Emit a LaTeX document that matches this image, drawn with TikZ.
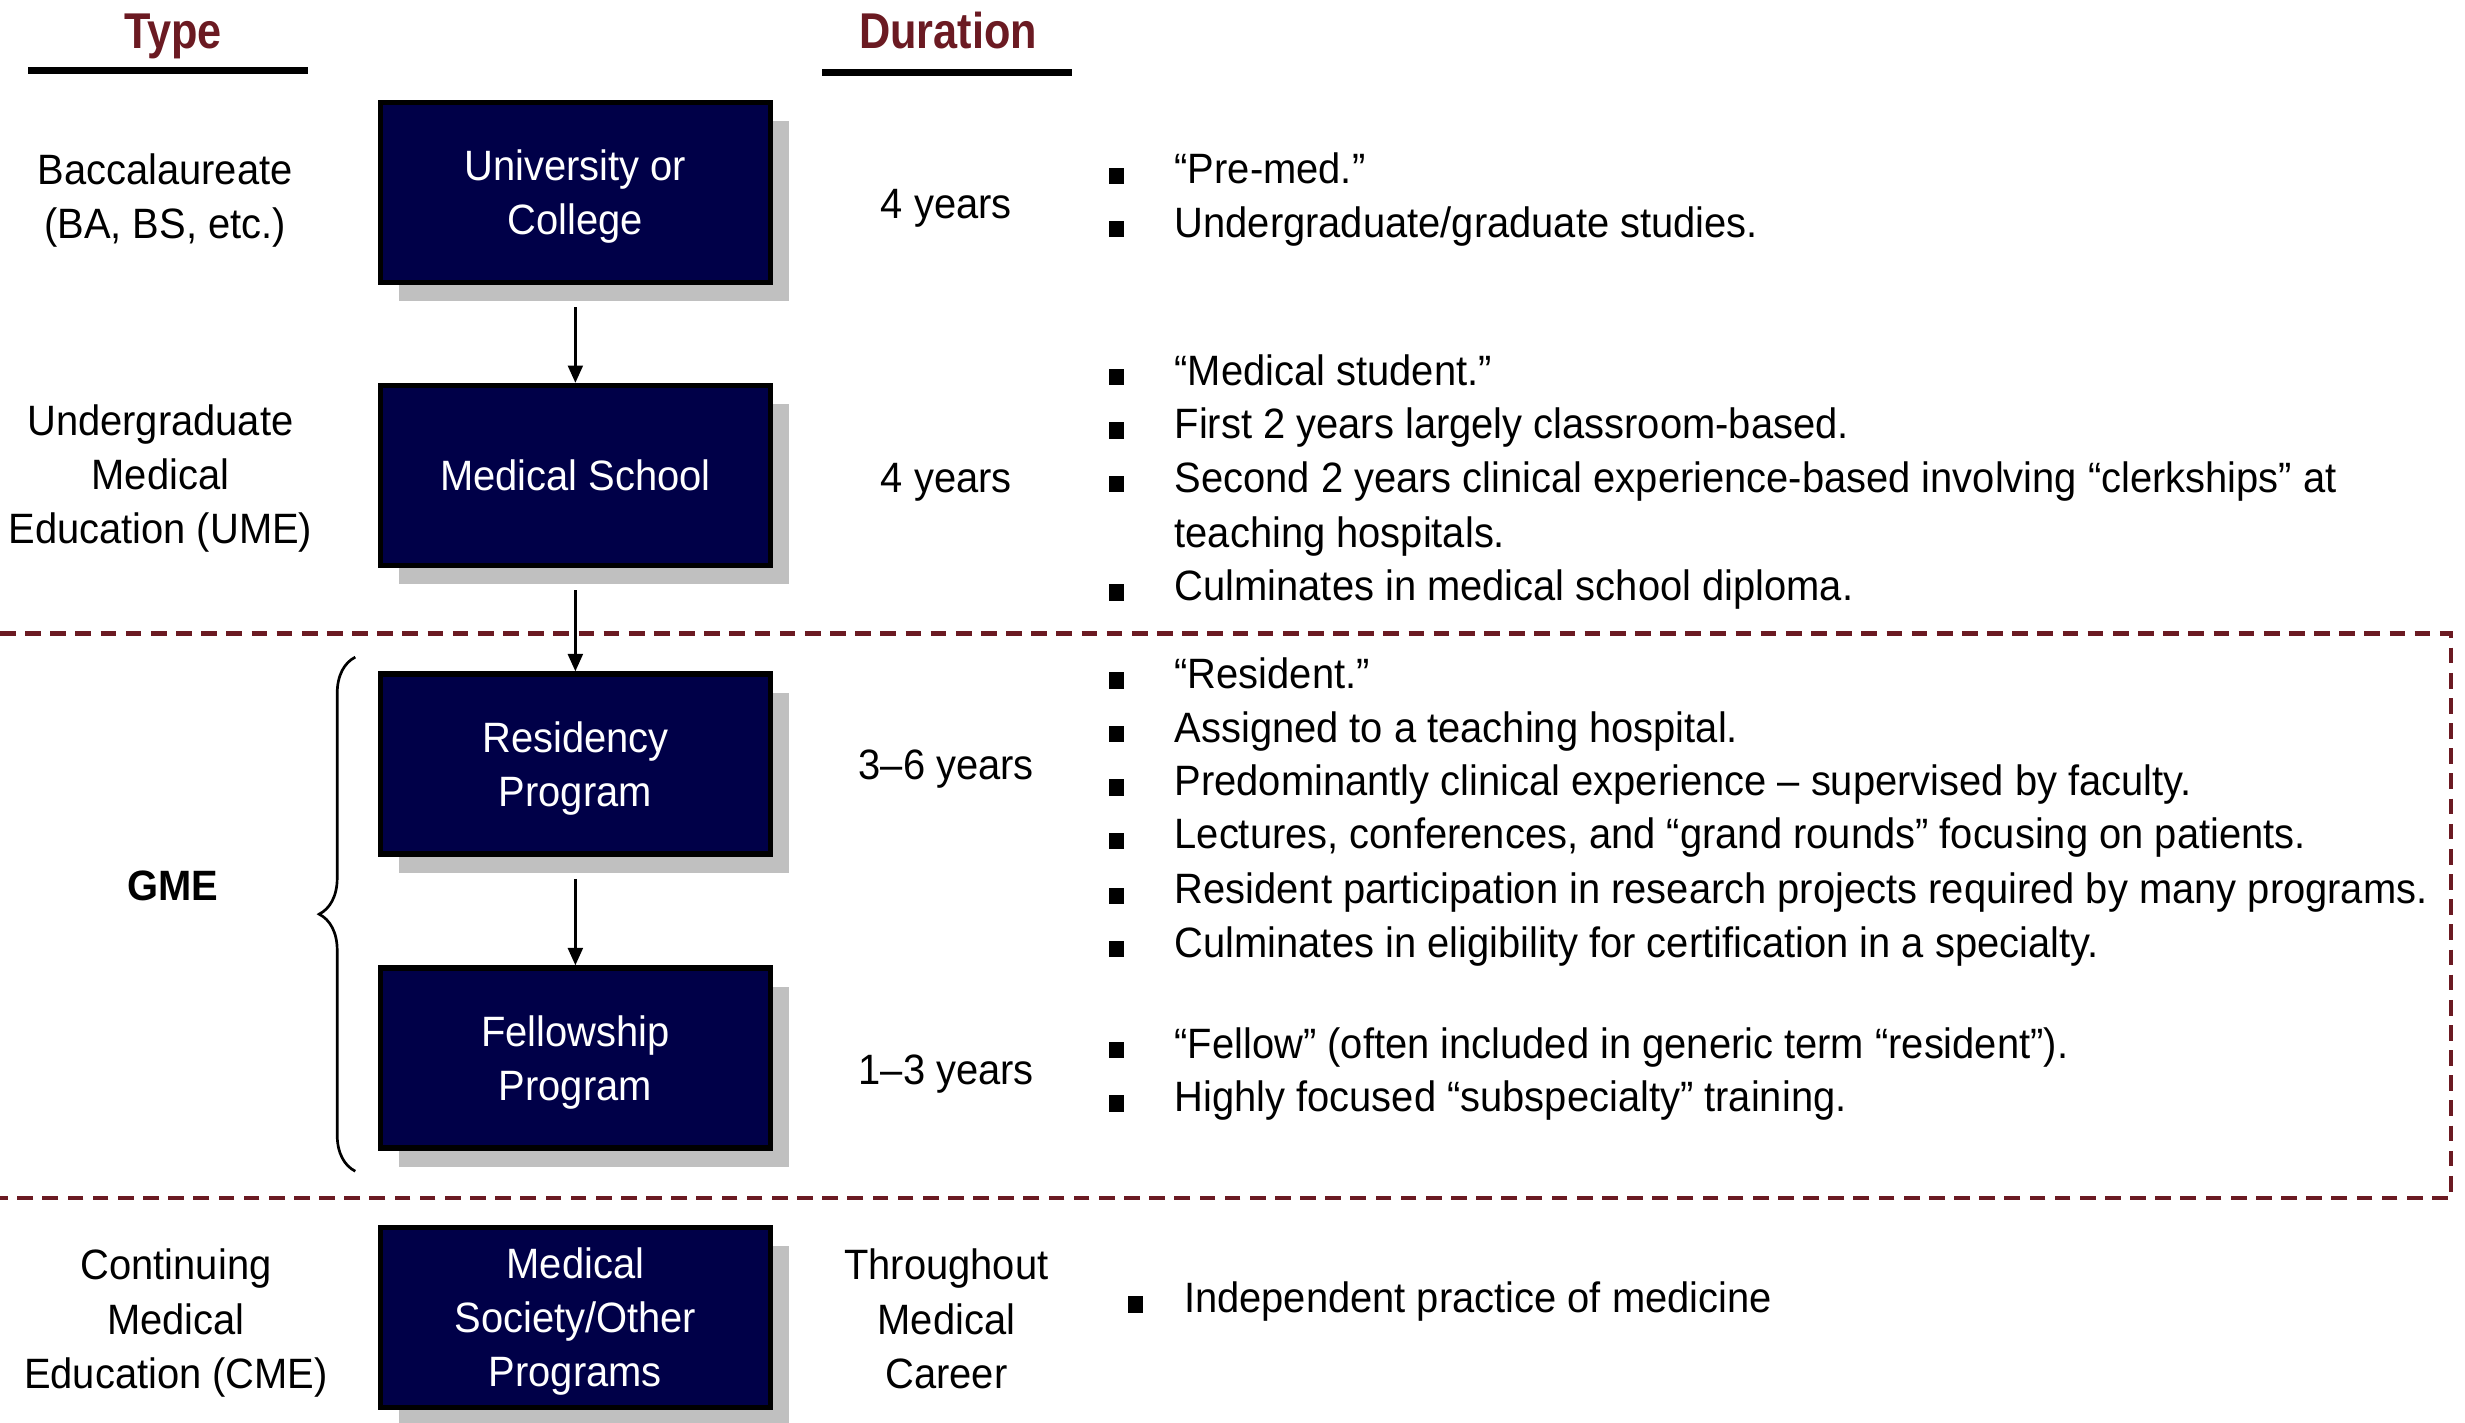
\documentclass[tikz,border=0pt]{standalone}
\usepackage{fontspec}
\setmainfont[FakeStretch=0.94]{Liberation Sans}
\newfontfamily\hdrfont[FakeStretch=0.86]{Liberation Sans}
\usetikzlibrary{arrows.meta,decorations.pathreplacing,shadows}
\definecolor{hdr}{HTML}{6B1A22}
\definecolor{boxnavy}{HTML}{000048}
\definecolor{shade}{HTML}{C0C0C0}
\newcommand{\bodyfont}{\fontsize{27}{34.4}\selectfont}
\newcommand{\tl}{\rule{0pt}{25pt}}
\newcommand{\bitem}[4]{\node[bul] (#1b) at (#2-37,#3+4.8) {}; \node[itm] (#1) at (#2,#3+10) {#4};}
\begin{document}
\begin{tikzpicture}[x=1pt,y=-1pt,
  prog/.style={draw=black,line width=3.5pt,fill=boxnavy,text=white,minimum width=248pt,minimum height=114.5pt,align=center,font=\bodyfont,inner sep=0pt,drop shadow={shadow xshift=12pt,shadow yshift=-12pt,fill=shade,opacity=1}},
  hdrtxt/.style={font=\fontsize{32}{36}\selectfont\hdrfont\bfseries,text=hdr,anchor=base,inner sep=0pt},
  uline/.style={line width=4.4pt},
  lbl/.style={font=\bodyfont,align=center,anchor=base,inner sep=0pt},
  itm/.style={font=\bodyfont,anchor=base west,inner sep=0pt},
  bul/.style={fill=black,minimum width=9.5pt,minimum height=10.5pt,inner sep=0pt},
  arr/.style={line width=1.5pt,-{Triangle[width=9.5pt,length=11pt]}},
  gmeline/.style={draw=hdr,line width=3pt,dash pattern=on 10pt off 6pt},
  gmebrace/.style={line width=1.7pt,decorate,decoration={brace,amplitude=23pt}}
]
\useasboundingbox (0,0) rectangle (1568,905);
% headers
\node[hdrtxt] (hType) at (110,31) {Type};
\node[hdrtxt] (hDur) at (603,31) {Duration};
\draw[uline] (18,45) -- (196,45);
\draw[uline] (523,46) -- (682,46);
% dashed GME frame
\draw[gmeline] (0,403) -- (1559,403) -- (1559,762) -- (0,762);
% boxes
\node[prog] (uni) at (366,122.5) {\tl University or\\College};
\node[prog] (med) at (366,302.5) {Medical School};
\node[prog] (res) at (366,486) {\tl Residency\\Program};
\node[prog] (fel) at (366,673) {\tl Fellowship\\Program};
\node[prog] (soc) at (366,838) {\tl Medical\\Society/Other\\Programs};
% arrows
\draw[arr] ([yshift=-14pt]uni.south) -- (med.north);
\draw[arr] ([yshift=-14pt]med.south) -- (res.north);
\draw[arr] ([yshift=-14pt]res.south) -- (fel.north);
% brace
\draw[gmebrace] (226,745) -- (226,418);
% type column
\node[lbl] (tBac) at (105,152) {Baccalaureate\\(BA, BS, etc.)};
\node[lbl] (tUME) at (102,346) {Undergraduate\\Medical\\Education (UME)};
\node[lbl,font=\bodyfont\bfseries] (tGME) at (110,573) {GME};
\node[lbl] (tCME) at (112,883) {Continuing\\Medical\\Education (CME)};
% duration column
\node[lbl] (d1) at (602,139) {4 years};
\node[lbl] (d2) at (602,313) {4 years};
\node[lbl] (d3) at (602,496) {3–6 years};
\node[lbl] (d4) at (602,690) {1–3 years};
\node[lbl] (d5) at (602,883) {Throughout\\Medical\\Career};
% bullets
\bitem{a1}{747}{107}{“Pre-med.”}
\bitem{a2}{747}{141}{Undergraduate/graduate studies.}
\bitem{b1}{747}{235}{“Medical student.”}
\bitem{b2}{747}{269}{First 2 years largely classroom-based.}
\bitem{b3}{747}{303}{Second 2 years clinical experience-based involving “clerkships” at}
\node[itm] (b3c) at (747,348) {teaching hospitals.};
\bitem{b4}{747}{372}{Culminates in medical school diploma.}
\bitem{c1}{747}{428}{“Resident.”}
\bitem{c2}{747}{462}{Assigned to a teaching hospital.}
\bitem{c3}{747}{496}{Predominantly clinical experience – supervised by faculty.}
\bitem{c4}{747}{530}{Lectures, conferences, and “grand rounds” focusing on patients.}
\bitem{c5}{747}{565}{Resident participation in research projects required by many programs.}
\bitem{c6}{747}{599}{Culminates in eligibility for certification in a specialty.}
\bitem{e1}{747}{663}{“Fellow” (often included in generic term “resident”).}
\bitem{e2}{747}{697}{Highly focused “subspecialty” training.}
\node[bul] (f1b) at (722,829.8) {};
\node[itm] (f1) at (753,835) {Independent practice of medicine};
\end{tikzpicture}
\end{document}
